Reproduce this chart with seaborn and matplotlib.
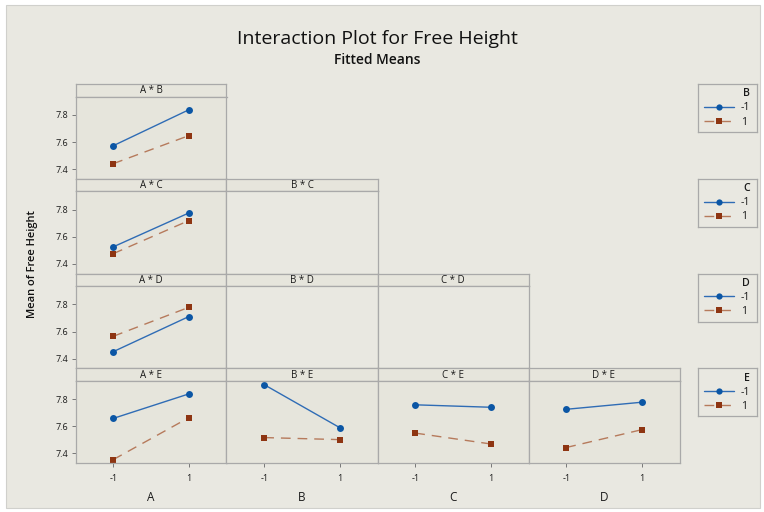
import numpy as np
import pandas as pd
import matplotlib
matplotlib.use("Agg")
import matplotlib.pyplot as plt
from matplotlib.patches import Rectangle
import seaborn as sns

# Factor levels and fitted means for each two-way interaction
levels = [-1, 1]
factors = ["A", "B", "C", "D", "E"]

ab_b_lo = [7.573, 7.837]
ab_b_hi = [7.441, 7.647]
ac_c_lo = [7.526, 7.775]
ac_c_hi = [7.476, 7.719]
ad_d_lo = [7.452, 7.710]
ad_d_hi = [7.565, 7.778]
ae_e_lo = [7.658, 7.838]
ae_e_hi = [7.355, 7.663]
be_e_lo = [7.906, 7.590]
be_e_hi = [7.517, 7.502]
ce_e_lo = [7.758, 7.740]
ce_e_hi = [7.550, 7.470]
de_e_lo = [7.725, 7.777]
de_e_hi = [7.444, 7.575]

yticks = [7.4, 7.6, 7.8]
ytick_labels = ["7.4", "7.6", "7.8"]
xtick_labels = ["-1", "1"]

interactions = {
    ("A", "B"): (ab_b_lo, ab_b_hi),
    ("A", "C"): (ac_c_lo, ac_c_hi),
    ("A", "D"): (ad_d_lo, ad_d_hi),
    ("A", "E"): (ae_e_lo, ae_e_hi),
    ("B", "E"): (be_e_lo, be_e_hi),
    ("C", "E"): (ce_e_lo, ce_e_hi),
    ("D", "E"): (de_e_lo, de_e_hi),
}

rows = []
for (xf, hf), (lo, hi) in interactions.items():
    for lvl, vals in zip(["-1", "1"], (lo, hi)):
        for xv, m in zip(levels, vals):
            rows.append({"xf": xf, "hf": hf, "x": xv, "level": lvl, "mean": m})
df = pd.DataFrame(rows)

sns.set_theme(style="white")
plt.rcParams["font.family"] = ["Open Sans", "DejaVu Sans"]

BG = "#E9E8E1"
PANEL = "#E6E5DC"
EDGE = "#A9A9A9"
TXT = "#1A1A1A"
line_cols = {"-1": "#2F6CB5", "1": "#B67A5C"}
mark_cols = {"-1": "#0B56A5", "1": "#8E3512"}

W, H = 764, 512
fig = plt.figure(figsize=(W / 100, H / 100), dpi=100, facecolor="white")


def rect(x0, y0, x1, y1):
    return [x0 / W, 1 - y1 / H, (x1 - x0) / W, (y1 - y0) / H]


# frame around the whole graph
fig.patches.append(Rectangle((6 / W, 1 - 508 / H), 754 / W, 503 / H,
                             transform=fig.transFigure, facecolor=BG,
                             edgecolor="#D0D0CC", lw=0.8, zorder=-10))

col_l, col_w = 75.5, 151.0
row_t, row_h, strip_h = 84.0, 94.75, 12.5


def style_box(ax, face):
    ax.set_facecolor(face)
    for s in ax.spines.values():
        s.set_color(EDGE)
        s.set_linewidth(0.9)


for r in range(4):
    hf = factors[r + 1]
    handles = None
    for c in range(r + 1):
        xf = factors[c]
        x0 = col_l + c * col_w
        x1 = x0 + col_w
        top = row_t + r * row_h
        # strip
        sax = fig.add_axes(rect(x0, top, x1, top + strip_h))
        style_box(sax, PANEL)
        sax.set_xticks([])
        sax.set_yticks([])
        sax.text(0.5, 0.45, f"{xf} * {hf}", ha="center", va="center",
                 fontsize=7, color=TXT, transform=sax.transAxes)
        # panel
        ax = fig.add_axes(rect(x0, top + strip_h, x1, top + row_h))
        sub = df[(df.xf == xf) & (df.hf == hf)]
        has_data = len(sub) > 0
        style_box(ax, PANEL if has_data else BG)
        if has_data:
            sns.lineplot(data=sub, x="x", y="mean", hue="level", style="level",
                         hue_order=["-1", "1"], style_order=["-1", "1"],
                         palette=line_cols, markers={"-1": "o", "1": "s"},
                         dashes={"-1": "", "1": (7, 5)}, linewidth=1.0,
                         markersize=5.0, markeredgewidth=0, ax=ax, legend=True)
            for ln, lvl in zip(ax.lines, ["-1", "1"]):
                ln.set_markerfacecolor(mark_cols[lvl])
                ln.set_markeredgecolor(mark_cols[lvl])
            h, l = ax.get_legend_handles_labels()
            if handles is None:
                handles = (h, l)
            ax.get_legend().remove()
        ax.set_xlim(-2, 2)
        ax.set_ylim(7.33, 7.935)
        ax.set_xlabel("")
        ax.set_ylabel("")
        if c == 0:
            ax.set_yticks(yticks)
            ax.set_yticklabels(ytick_labels)
        else:
            ax.set_yticks([])
        if r == 3:
            ax.set_xticks(levels)
            ax.set_xticklabels(xtick_labels)
            ax.set_xlabel(xf, fontsize=8.5, color=TXT, labelpad=6)
        else:
            ax.set_xticks([])
        ax.tick_params(axis="both", direction="out", length=3, width=0.7,
                       color="#777777", labelsize=6.5, labelcolor=TXT,
                       pad=2, left=(c == 0), bottom=(r == 3))
        ax.tick_params(axis="x", pad=5)

    # legend box for this row's grouping factor
    top = row_t + r * row_h
    lax = fig.add_axes(rect(697.5, top, 756.5, top + 48))
    style_box(lax, BG)
    lax.set_xticks([])
    lax.set_yticks([])
    h, l = handles
    for hd in h:
        lbl = hd.get_label()
        if lbl in mark_cols:
            hd.set_markerfacecolor(mark_cols[lbl])
            hd.set_markeredgecolor(mark_cols[lbl])
    leg = lax.legend(h, l, title=hf, loc="center right", frameon=False,
                     fontsize=7.6, title_fontsize=7.6, handlelength=2.9,
                     handletextpad=0.6, labelspacing=0.3, borderpad=0.2,
                     borderaxespad=0.4, alignment="right", markerscale=0.9)
    for t in leg.get_texts():
        t.set_color(TXT)
    leg.get_title().set_color(TXT)
    leg.get_title().set_fontweight("semibold")

fig.text(377 / W, 1 - 39 / H, "Interaction Plot for Free Height", ha="center",
         va="center", fontsize=14, fontweight="medium", color="#111111")
fig.text(377 / W, 1 - 60 / H, "Fitted Means", ha="center", va="center",
         fontsize=10, fontweight="semibold", color="#111111")
fig.text(33 / W, 1 - 264 / H, "Mean of Free Height", ha="center", va="center",
         rotation=90, fontsize=8, fontweight="semibold", color="#111111")

fig.savefig("out.png", dpi=100, facecolor="white")
